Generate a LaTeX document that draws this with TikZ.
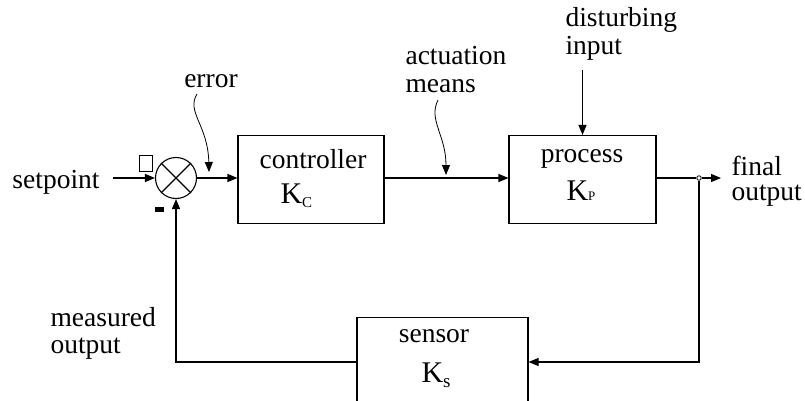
\documentclass[tikz,border=0pt]{standalone}
\usepackage{fontspec}
\setmainfont{Liberation Serif}
\usetikzlibrary{arrows.meta}
\begin{document}
\begin{tikzpicture}[x=1pt,y=-1pt,line width=1.1pt,
  lbl/.style={font=\fontsize{27.5}{27.5}\selectfont, inner sep=0pt, anchor=base},
  lblw/.style={lbl, anchor=base west},
  kk/.style={font=\fontsize{30}{30}\selectfont, inner sep=0pt, anchor=base west},
  blk/.style={draw, inner sep=0pt, minimum width=#1, minimum height=88pt},
  arr/.style={-{Triangle[length=10pt,width=8pt]}}]
\useasboundingbox (0,0) rectangle (805,401);
\clip (0,0) rectangle (805,401);
% blocks
\node[blk=146pt] (ctrl) at (311,179.5) {};
\node[blk=147pt] (proc) at (582.5,179.5) {};
\node[blk=171pt, minimum height=110pt, anchor=north] (sens) at (442.5,317) {};
\node[draw, circle, minimum size=41pt, inner sep=0pt] (sum) at (176,178) {};
\draw (sum.north west) -- (sum.south east) (sum.north east) -- (sum.south west);
% block texts
\node[lbl] (ctxt) at (313,168) {controller};
\node[kk] (kc) at (280,203) {K\raisebox{-4pt}{\fontsize{15}{15}\selectfont C}};
\node[lbl] (ptxt) at (582,162) {process};
\node[kk] (kp) at (566,200) {K\fontsize{13}{13}\selectfont P};
\node[lbl] (stxt) at (434,342) {sensor};
\node[kk] (ks) at (421,382) {K\raisebox{-5pt}{\fontsize{19}{19}\selectfont s}};
% labels
\node[lbl] (setp) at (56,188) {setpoint};
\node[lbl] (err) at (211,88) {error};
\node[lblw] (act1) at (405,65) {actuation};
\node[lblw] (act2) at (405,93) {means};
\node[lblw] (dis1) at (565,27) {disturbing};
\node[lblw] (dis2) at (565,55) {input};
\node[lblw] (fin1) at (731,175) {final};
\node[lblw] (fin2) at (731,200) {output};
\node[lblw] (mea1) at (50,326) {measured};
\node[lblw] (mea2) at (50,353) {output};
% plus placeholder and minus
\node[draw, line width=0.9pt, minimum width=13pt, minimum height=16pt, inner sep=0pt] (plus) at (146,163.5) {};
\node[fill, minimum width=9pt, minimum height=5pt, inner sep=0pt] (minus) at (159.5,209.5) {};
% coordinates
\coordinate (spstart) at (113,178);
\coordinate (errs) at (197,94);
\coordinate (erre) at (209,172);
\coordinate (acts) at (438,100);
\coordinate (acte) at (446,175);
\coordinate (diss) at (582.5,70);
\node[circle, draw, fill=white, line width=0.8pt, minimum size=4.5pt, inner sep=0pt] (dot) at (699,178) {};
\coordinate (outend) at (721,178);
\coordinate (fbr) at (699,362);
\coordinate (fbl) at (176,362);
% connectors
\draw[arr] (spstart) -- (sum.west);
\draw[arr] (sum.east) -- (ctrl.west |- sum.east);
\draw[arr] (ctrl.east |- sum.east) -- (proc.west |- sum.east);
\draw[arr] (diss) -- (proc.north);
\draw (proc.east |- sum.east) -- (dot.west);
\draw[arr] (dot.east) -- (outend);
\draw[arr] (dot.south) -- (fbr) -- (fbr -| sens.east);
\draw[arr] (fbr -| sens.west) -- (fbl) -- (sum.south);
\draw[arr, line width=0.8pt] (errs) .. controls (186,112) and (208,125) .. (erre);
\draw[arr, line width=0.8pt] (acts) .. controls (428,120) and (446,135) .. (acte);
\end{tikzpicture}
\end{document}
